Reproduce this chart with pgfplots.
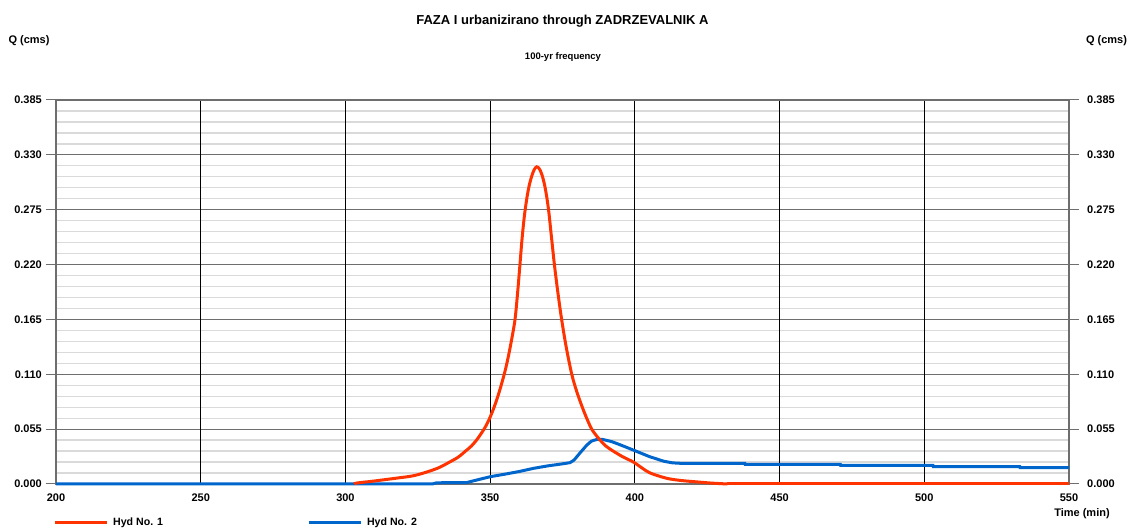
\documentclass[border=0pt]{standalone}
\usepackage{fontspec}
\setmainfont{Liberation Sans}
\usepackage{pgfplots}
\pgfplotsset{compat=1.18}
\definecolor{hydred}{RGB}{255,51,0}
\definecolor{hydblue}{RGB}{0,102,204}
\definecolor{axgray}{RGB}{110,110,110}
\definecolor{mingray}{RGB}{218,218,218}

% Hyd No. 1, rising and falling limb
\pgfplotstableread{
x y
303 0
304 0.001
310 0.003
318 0.006
323 0.008
327 0.011
332 0.016
336 0.022
339 0.027
341.5 0.033
343.5 0.038
345.3 0.044
347 0.051
348.5 0.058
350 0.067
351.5 0.078
353 0.091
354.2 0.103
355.3 0.115
356.3 0.128
357.5 0.146
358.6 0.165
359.5 0.192
360.3 0.220
361.0 0.245
361.8 0.268
362.6 0.285
363.4 0.298
364.3 0.308
365.2 0.315
366.1 0.318
367.0 0.316
367.9 0.310
368.8 0.300
369.6 0.287
370.3 0.272
371.1 0.250
372.2 0.220
373.4 0.192
374.7 0.165
376.3 0.137
378.2 0.110
380 0.092
382.5 0.072
385.1 0.055
388 0.044
390 0.038
392.5 0.033
396 0.027
399.5 0.022
402.5 0.016
405.3 0.011
411 0.0057
416 0.0035
421 0.0022
426 0.0010
430 0.0003
432 0
}\hydone

\pgfplotstableread{
x y
432 0
550 0
}\hydonetail

\pgfplotstableread{
x y
200 0
330 0
331.5 0.0012
342 0.0015
344 0.003
350 0.0073
355 0.0098
360 0.0125
365 0.0157
370 0.0182
375 0.0202
377.6 0.0214
379 0.024
381 0.031
383.4 0.039
385 0.0430
387 0.0448
389 0.0446
392 0.0425
395 0.0392
399.5 0.0340
405 0.0275
410 0.0228
413 0.0212
416 0.0207
438 0.0207
438.1 0.0197
471 0.0197
471.1 0.0186
503 0.0186
503.1 0.0175
533 0.0175
533.1 0.0165
550 0.0165
}\hydtwo

\pgfplotsset{
  hydframe/.style={
    at={(0,0)}, anchor=south west,
    scale only axis, width=1013pt, height=384pt,
    xmin=200, xmax=550, ymin=0, ymax=0.385,
    xtick={200,250,300,350,400,450,500,550},
    ytick={0,0.055,0.110,0.165,0.220,0.275,0.330,0.385},
    yticklabels={0.000,0.055,0.110,0.165,0.220,0.275,0.330,0.385},
    /pgf/number format/assume math mode=true,
    ticklabel style={font=\fontsize{11}{13}\selectfont\bfseries},
    axis line style={axgray, line width=1.2pt},
  }
}

\begin{document}
\begin{tikzpicture}[font=\fontsize{11}{13}\selectfont\bfseries]
% horizontal grid underneath
\begin{axis}[
  hydframe,
  xticklabels={}, yticklabels={},
  tick style={draw=none},
  minor y tick num=4,
  ymajorgrids, yminorgrids,
  major y grid style={axgray, line width=1.2pt},
  minor y grid style={mingray, line width=1.3pt},
]
\end{axis}
% main axis: vertical grid, curves, legend
\begin{axis}[
  hydframe,
  clip=false,
  ytick pos=left,
  tick align=outside,
  major tick length=10pt,
  xtick style={draw=none},
  ytick style={draw=axgray, line width=1pt},
  xticklabel style={inner sep=0pt, yshift=0.8pt},
  yticklabel style={inner sep=0pt, xshift=-4pt},
  xmajorgrids,
  major x grid style={black, line width=0.9pt},
  legend columns=2,
  legend style={draw=none, fill=none, inner sep=0pt,
    at={(0,-0.0997)}, anchor=west, xshift=-3pt,
    font=\fontsize{10.6}{13}\selectfont\bfseries,
    nodes={inner sep=0pt},
    /tikz/every odd column/.append style={column sep=5pt},
    /tikz/every even column/.append style={column sep=144pt}},
  legend image code/.code={\draw[#1] (0pt,0pt) -- (52pt,0pt);},
]
\addlegendimage{hydred, line width=3pt}
\addlegendentry{Hyd No. 1}
\addlegendimage{hydblue, line width=3pt}
\addlegendentry{Hyd No. 2}
\addplot[hydblue, line width=3pt, forget plot] table[x=x,y=y]{\hydtwo};
\addplot[hydred, line width=3pt, smooth, tension=0.5, forget plot] table[x=x,y=y]{\hydone};
\addplot[hydred, line width=3pt, forget plot] table[x=x,y=y]{\hydonetail};
\end{axis}
% right-hand scale
\begin{axis}[
  hydframe,
  axis x line=none, axis y line*=right,
  y axis line style={draw=none},
  tick align=outside,
  major tick length=10pt,
  ytick style={draw=axgray, line width=1pt},
  yticklabel style={inner sep=0pt, xshift=8pt},
]
\end{axis}
\node[font=\fontsize{13}{15}\selectfont\bfseries] at (506.5pt,463pt) {FAZA I urbanizirano through ZADRZEVALNIK A};
\node[font=\fontsize{9.5}{11}\selectfont\bfseries] at (507pt,427pt) {100-yr frequency};
\node at (-27pt,443pt) {Q (cms)};
\node at (1050.5pt,443pt) {Q (cms)};
\node at (1026pt,-30pt) {Time (min)};
\pgfresetboundingbox
\path (-56pt,-45pt) rectangle (1080pt,484pt);
\end{tikzpicture}
\end{document}
